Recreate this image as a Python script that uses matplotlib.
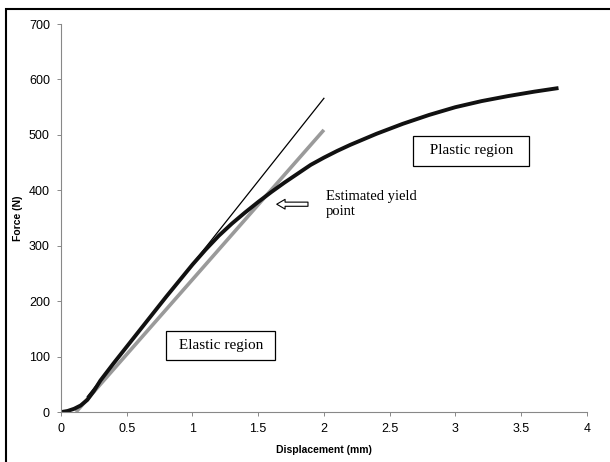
import matplotlib.pyplot as plt
from matplotlib.patches import Rectangle

# measured load-displacement curve
disp = [0, 0.05, 0.1, 0.15, 0.2, 0.25, 0.3, 0.4, 0.5, 0.6, 0.7, 0.8, 0.9, 1.0,
        1.1, 1.2, 1.3, 1.4, 1.5, 1.6, 1.7, 1.8, 1.9, 2.0, 2.1, 2.2, 2.4, 2.6,
        2.8, 3.0, 3.2, 3.4, 3.6, 3.77]
force = [0, 2, 6, 12, 22, 38, 57, 88, 118, 148, 178, 208, 237, 266,
         293, 318, 340, 360, 379, 397, 414, 430, 446, 459, 471, 482, 502, 520,
         536, 550, 561, 570, 578, 584]

# tangent to the elastic part
tangent_x = [0.2, 2.0]
tangent_y = [28, 566]

# offset line
offset_x = [0.114, 2.0]
offset_y = [0, 509]

xticks = [0, 0.5, 1, 1.5, 2, 2.5, 3, 3.5, 4]
xticklabels = ['0', '0.5', '1', '1.5', '2', '2.5', '3', '3.5', '4']
yticks = [0, 100, 200, 300, 400, 500, 600, 700]

fig = plt.figure(figsize=(6.1, 4.62), dpi=100)
ax = fig.add_axes([0.1, 0.108, 0.862, 0.84])

ax.plot(offset_x, offset_y, color='#9a9a9a', linewidth=2.6, solid_capstyle='butt')
ax.plot(tangent_x, tangent_y, color='black', linewidth=0.9)
ax.plot(disp, force, color='#111111', linewidth=2.8)

ax.set_xlim(0, 4)
ax.set_ylim(0, 700)
ax.set_xticks(xticks)
ax.set_xticklabels(xticklabels)
ax.set_yticks(yticks)
for s in ['top', 'right']:
    ax.spines[s].set_visible(False)
for s in ['left', 'bottom']:
    ax.spines[s].set_color('#888888')
    ax.spines[s].set_linewidth(0.8)
ax.tick_params(direction='out', length=3, width=0.7, color='#888888',
               labelsize=9, pad=5)
for lab in ax.get_xticklabels() + ax.get_yticklabels():
    lab.set_family('Liberation Sans')

ax.set_xlabel('Displacement (mm)', fontsize=7.5, fontweight='bold',
              family='Liberation Sans', labelpad=7)
ax.set_ylabel('Force (N)', fontsize=7.5, fontweight='bold',
              family='Liberation Sans', labelpad=4)

box = dict(boxstyle='square,pad=0.55', facecolor='white', edgecolor='black', linewidth=0.9)
ax.text(1.215, 120, ' Elastic region ', fontsize=11, family='Liberation Serif',
        ha='center', va='center', bbox=box)
ax.text(3.12, 471, '  Plastic region  ', fontsize=11, family='Liberation Serif',
        ha='center', va='center', bbox=box)
ax.text(2.015, 375, 'Estimated yield\npoint', fontsize=10.5, family='Liberation Serif',
        ha='left', va='center', linespacing=1.2)
ax.annotate('', xy=(1.62, 375), xytext=(1.9, 375),
            arrowprops=dict(arrowstyle='simple,head_width=0.7,head_length=0.6,tail_width=0.3',
                            facecolor='white', edgecolor='black', linewidth=0.8))

# frame round the figure (only top and left visible in the scan)
fig.patches.append(Rectangle((6 / 610, -0.05), 1.1, 1 - 9 / 462 + 0.05,
                             transform=fig.transFigure, fill=False,
                             edgecolor='black', linewidth=1.5))

fig.savefig('out.png', dpi=100)
